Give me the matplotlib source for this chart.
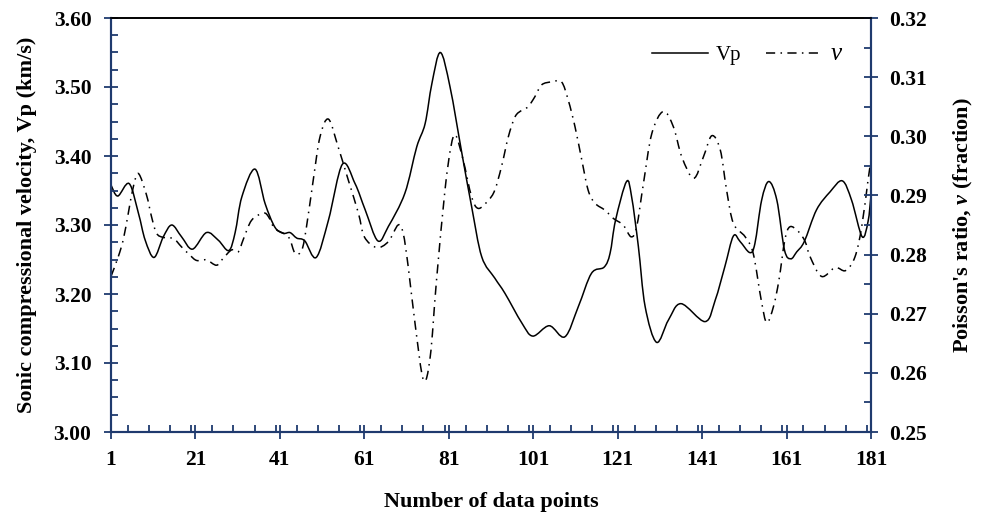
import matplotlib
matplotlib.use("Agg")
import matplotlib.pyplot as plt
from matplotlib.ticker import MultipleLocator, FixedLocator
from matplotlib.path import Path
from matplotlib.patches import PathPatch
from matplotlib.lines import Line2D

plt.rcParams['font.family'] = ['Liberation Serif', 'DejaVu Serif']
plt.rcParams['mathtext.fontset'] = 'custom'
plt.rcParams['mathtext.rm'] = 'Liberation Serif'
plt.rcParams['mathtext.it'] = 'Liberation Serif:italic'
plt.rcParams['mathtext.bf'] = 'Liberation Serif:bold'
try:
    plt.rcParams['mathtext.bfit'] = 'Liberation Serif:bold:italic'
except KeyError:
    pass

# ---- data ----
vp_x = [1, 2.6, 5.3, 7.5, 9.1, 11.2, 13.4, 15.4, 17.7, 20.3, 23.6, 26.4, 28.9, 30.4,
        32, 35.1, 37.5, 39.8, 41.8, 43.4, 45, 46.9, 49.6, 52.5, 55.8, 58.8, 61.2,
        64.2, 66.7, 70.6, 73.4, 75.4, 77, 79, 81.3, 84.1, 86.4, 88.8, 91.9,
        94.3, 98.3, 100.9, 104.8, 108.5, 111.7, 114.8, 117.8, 119.2, 120.5, 123.1,
        124.3, 125.9, 127.5, 130.2, 133, 136, 141.7, 144.1, 146.4, 148.4, 150, 152.3,
        153.5, 155.1, 156.8, 158.7, 160.5, 162, 163.4, 165.2, 168.1, 171.3, 174.2,
        176.4, 178.9, 180.3, 181]
vp_y = [3.358, 3.342, 3.360, 3.317, 3.278, 3.253, 3.283, 3.300, 3.283, 3.265, 3.289, 3.278, 3.263, 3.289,
        3.341, 3.381, 3.331, 3.297, 3.288, 3.289, 3.281, 3.277, 3.253, 3.307, 3.388, 3.360, 3.322,
        3.277, 3.298, 3.346, 3.413, 3.447, 3.505, 3.550, 3.500, 3.404, 3.327, 3.254, 3.223,
        3.201, 3.158, 3.139, 3.154, 3.138, 3.182, 3.230, 3.239, 3.259, 3.307, 3.363,
        3.341, 3.269, 3.182, 3.130, 3.162, 3.186, 3.160, 3.191, 3.240, 3.284, 3.276, 3.260,
        3.273, 3.336, 3.363, 3.336, 3.264, 3.251, 3.261, 3.276, 3.322, 3.348, 3.364,
        3.336, 3.283, 3.305, 3.343]

nu_x = [1, 2.7, 3.9, 5.1, 6.3, 7.5, 9.4, 10.6, 11.8, 13.4, 15.8, 17.7, 19.7, 21.3, 23.6, 26, 27.6, 29.6,
        31.2, 32.3, 34.3, 37.1, 38.3, 39.8, 43, 44.6, 46.2, 47.3, 48.9, 50.5, 52.5, 54.8, 57.2, 59.6, 61,
        63.9, 66.7, 69, 70.2, 71.4, 73, 75, 76.6, 78.1, 80.1, 81.5, 82.6, 84.4, 86.4, 88, 90.4, 91.9,
        93.5, 95.1, 96.7, 98.3, 99.8, 101.4, 103, 105.4, 107.7, 109.3, 110.9, 112.5, 114, 115.6, 118, 120, 122.3,
        124.2, 125.5, 127.1, 129.1, 131.8, 134.2, 136.2, 139, 141.3, 143.3, 145.3, 146.8, 148.4, 151.2, 153.1,
        155, 156.3, 157.9, 159.2, 160.6, 161.8, 163.8, 165.4, 166.6, 169.3, 172.5, 175, 177.2, 178.8, 180.3, 181]
nu_y = [0.2763, 0.2796, 0.2825, 0.2870, 0.2915, 0.2937, 0.2901, 0.2864, 0.2836, 0.2829, 0.2827, 0.2813, 0.2799, 0.2790, 0.2791, 0.2782, 0.2794, 0.2808,
        0.2805, 0.2825, 0.2858, 0.2870, 0.2864, 0.2844, 0.2830, 0.2802, 0.2808, 0.2847, 0.2926, 0.2999, 0.3029, 0.2982, 0.2926, 0.2870, 0.2830,
        0.2812, 0.2822, 0.2850, 0.2836, 0.2779, 0.2684, 0.2588, 0.2627, 0.2757, 0.2909, 0.2982, 0.3002, 0.2960, 0.2898, 0.2878, 0.2892, 0.2909,
        0.2949, 0.2999, 0.3033, 0.3044, 0.3050, 0.3067, 0.3087, 0.3092, 0.3092, 0.3061, 0.3016, 0.2960, 0.2909, 0.2887, 0.2875, 0.2861, 0.2850,
        0.2830, 0.2847, 0.2920, 0.3005, 0.3042, 0.3016, 0.2965, 0.2929, 0.2965, 0.3001, 0.2977, 0.2909, 0.2853, 0.2830, 0.2802,
        0.2723, 0.2685, 0.2712, 0.2757, 0.2825, 0.2847, 0.2839, 0.2822, 0.2796, 0.2763, 0.2778, 0.2773, 0.2796, 0.2847, 0.2926, 0.2960]

x_ticks = [1, 21, 41, 61, 81, 101, 121, 141, 161, 181]
vp_ticks = [3.00, 3.10, 3.20, 3.30, 3.40, 3.50, 3.60]
nu_ticks = [0.25, 0.26, 0.27, 0.28, 0.29, 0.30, 0.31, 0.32]

navy = '#1F3A6E'
dashdot = (0, (6, 3.5, 1, 3.5))


def smooth_path(xs, ys):
    """Excel-style smoothed line: cubic Bezier segments through the data points."""
    verts = [(xs[0], ys[0])]
    codes = [Path.MOVETO]
    n = len(xs)
    for i in range(n - 1):
        x0, y0 = (xs[i - 1], ys[i - 1]) if i > 0 else (xs[i], ys[i])
        x1, y1 = xs[i], ys[i]
        x2, y2 = xs[i + 1], ys[i + 1]
        x3, y3 = (xs[i + 2], ys[i + 2]) if i + 2 < n else (x2, y2)
        t = 1 / 6
        c1 = (x1 + (x2 - x0) * t, y1 + (y2 - y0) * t)
        c2 = (x2 - (x3 - x1) * t, y2 - (y3 - y1) * t)
        verts += [c1, c2, (x2, y2)]
        codes += [Path.CURVE4] * 3
    return Path(verts, codes)


fig = plt.figure(figsize=(9.81, 5.13), dpi=100)
ax = fig.add_axes([111/981, 81/513, 760/981, 414/513])
ax2 = ax.twinx()

ax.add_patch(PathPatch(smooth_path(vp_x, vp_y), facecolor='none', edgecolor='black', lw=1.1))
ax2.add_patch(PathPatch(smooth_path(nu_x, nu_y), facecolor='none', edgecolor='black', lw=1.1,
                        linestyle=dashdot))

ax.set_xlim(1, 181)
ax.set_ylim(3.0, 3.6)
ax2.set_ylim(0.25, 0.32)

ax.xaxis.set_major_locator(FixedLocator(x_ticks))
ax.xaxis.set_minor_locator(MultipleLocator(5))
ax.yaxis.set_major_locator(FixedLocator(vp_ticks))
ax.yaxis.set_minor_locator(MultipleLocator(0.025))
ax2.yaxis.set_major_locator(FixedLocator(nu_ticks))
ax2.yaxis.set_minor_locator(MultipleLocator(0.005))

ax.set_xticklabels([str(v) for v in x_ticks])
ax.set_yticklabels([f'{v:.2f}' for v in vp_ticks])
ax2.set_yticklabels([f'{v:.2f}' for v in nu_ticks])

for a in (ax, ax2):
    for s in ('left', 'bottom', 'right'):
        a.spines[s].set_color(navy)
        a.spines[s].set_linewidth(1.5)
    a.spines['top'].set_color('black')
    a.spines['top'].set_linewidth(1.2)

ax.tick_params(axis='both', which='major', direction='inout', length=10, width=1.3, color=navy,
               labelsize=15.5, pad=9)
ax.tick_params(axis='both', which='minor', direction='in', length=5, width=1.3, color=navy)
ax2.tick_params(axis='y', which='major', direction='inout', length=10, width=1.3, color=navy,
                labelsize=15.5, pad=8)
ax2.tick_params(axis='y', which='minor', direction='in', length=5, width=1.3, color=navy)
ax.tick_params(axis='x', pad=8)

for lab in ax.get_xticklabels() + ax.get_yticklabels() + ax2.get_yticklabels():
    lab.set_fontweight('bold')

ax.set_xlabel('Number of data points', fontsize=16, fontweight='bold', labelpad=16)
ax.set_ylabel('Sonic compressional velocity, Vp (km/s)', fontsize=16, fontweight='bold', labelpad=12)
ax2.set_ylabel(r"Poisson's ratio, $\mathbfit{\nu}$ (fraction)", fontsize=16, fontweight='bold', labelpad=18)

h1 = Line2D([], [], color='black', lw=1.1)
h2 = Line2D([], [], color='black', lw=1.1, linestyle=dashdot)
leg = ax.legend(handles=[h1, h2], labels=['Vp', r'$\nu$'], loc='center right', ncol=2, frameon=False,
                fontsize=15, handlelength=2.65, columnspacing=1.2, handletextpad=0.4,
                bbox_to_anchor=(0.988, 0.913))
leg.get_texts()[1].set_fontsize(18)

fig.savefig('out.png', dpi=100)
